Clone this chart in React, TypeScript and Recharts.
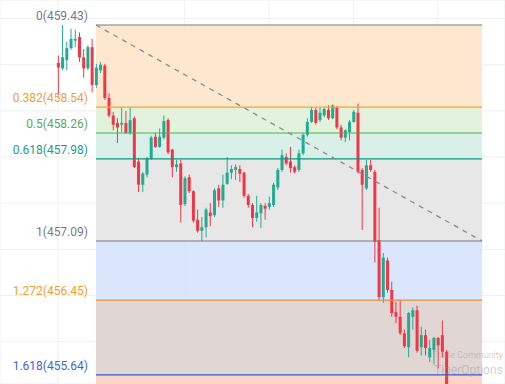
import React from 'react';
import {
  ComposedChart,
  Bar,
  XAxis,
  YAxis,
  CartesianGrid,
  ReferenceArea,
  ReferenceLine,
} from 'recharts';

// OHLC, one entry per candle
const opens = [
  459.02, 458.96, 459.05, 459.18, 459.26, 459.3, 459.08, 458.96, 459.19, 458.78,
  458.94, 458.99, 458.64, 458.45, 458.37, 458.35, 458.37, 458.26, 458.42, 457.95,
  457.7, 457.81, 457.98, 458.22, 458.11, 458.21, 458.4, 458.08, 457.89, 457.93,
  457.49, 457.78, 457.63, 457.32, 457.2, 457.24, 457.4, 457.37, 457.66, 457.53,
  457.71, 457.83, 457.86, 457.87, 457.83, 457.58, 457.48, 457.34, 457.39, 457.47,
  457.46, 457.48, 457.67, 457.86, 458.0, 457.95, 457.89, 457.86, 458.04, 458.24,
  458.38, 458.51, 458.4, 458.45, 458.51, 458.42, 458.54, 458.32, 458.21, 458.27,
  458.38, 458.48, 457.86, 457.66, 457.91, 457.84, 457.1, 456.48, 456.88, 456.56,
  456.32, 456.27, 456.09, 455.94, 456.27, 456.34, 455.94, 456.07, 455.83, 455.91,
  456.04, 456.07, 455.89,
];
const highs = [
  459.1, 459.43, 459.25, 459.39, 459.38, 459.35, 459.17, 459.21, 459.28, 459.01,
  459.03, 459.01, 458.69, 458.49, 458.42, 458.54, 458.5, 458.54, 458.44, 457.99,
  457.84, 458.0, 458.23, 458.26, 458.31, 458.45, 458.42, 458.09, 457.97, 457.97,
  457.79, 457.81, 457.64, 457.43, 457.35, 457.45, 457.5, 457.66, 457.7, 457.81,
  458.0, 457.91, 457.92, 457.91, 457.84, 457.6, 457.5, 457.58, 457.5, 457.5,
  457.57, 457.72, 457.88, 458.08, 458.04, 458.11, 457.91, 458.08, 458.26, 458.42,
  458.54, 458.53, 458.54, 458.53, 458.56, 458.57, 458.55, 458.35, 458.3, 458.4,
  458.51, 458.58, 457.88, 457.97, 457.97, 457.86, 457.45, 456.96, 456.91, 456.65,
  456.43, 456.45, 456.13, 456.32, 456.37, 456.39, 456.16, 456.13, 456.02, 456.05,
  456.05, 456.23, 455.91,
];
const lows = [
  458.67, 458.94, 458.94, 459.16, 459.19, 459.03, 458.86, 458.94, 458.7, 458.75,
  458.91, 458.62, 458.43, 458.29, 458.15, 458.27, 458.25, 458.24, 457.88, 457.62,
  457.62, 457.78, 457.97, 458.1, 458.1, 458.19, 458.03, 457.78, 457.84, 457.29,
  457.47, 457.61, 457.29, 457.18, 457.09, 457.13, 457.25, 457.35, 457.46, 457.45,
  457.7, 457.76, 457.75, 457.73, 457.56, 457.45, 457.24, 457.3, 457.23, 457.32,
  457.43, 457.46, 457.64, 457.84, 457.91, 457.83, 457.82, 457.84, 458.02, 458.22,
  458.37, 458.35, 458.38, 458.43, 458.4, 458.41, 458.3, 458.18, 458.16, 458.18,
  458.37, 457.82, 457.21, 457.64, 457.84, 456.86, 456.45, 456.42, 456.53, 456.27,
  456.2, 456.07, 455.93, 455.83, 456.13, 455.88, 455.85, 455.85, 455.78, 455.75,
  455.71, 455.83, 455.42,
];
const closes = [
  458.97, 459.08, 459.18, 459.28, 459.28, 459.08, 458.96, 459.19, 458.78, 458.97,
  459.0, 458.64, 458.45, 458.35, 458.32, 458.37, 458.26, 458.4, 457.89, 457.7,
  457.82, 457.99, 458.21, 458.11, 458.22, 458.39, 458.05, 457.89, 457.92, 457.48,
  457.77, 457.63, 457.31, 457.2, 457.24, 457.43, 457.36, 457.64, 457.53, 457.7,
  457.83, 457.87, 457.89, 457.82, 457.58, 457.48, 457.34, 457.4, 457.48, 457.44,
  457.5, 457.7, 457.86, 458.02, 457.93, 457.88, 457.84, 458.04, 458.24, 458.38,
  458.51, 458.37, 458.48, 458.52, 458.42, 458.56, 458.32, 458.21, 458.29, 458.38,
  458.49, 457.84, 457.7, 457.91, 457.86, 457.08, 456.48, 456.91, 456.56, 456.31,
  456.27, 456.09, 455.95, 456.31, 456.34, 455.9, 456.07, 455.93, 455.93, 456.04,
  455.96, 455.89, 455.42,
];

// fibonacci retracement drawn from the high to the low
const fibRatios = ['0', '0.382', '0.5', '0.618', '1', '1.272', '1.618'];
const fibPrices = [459.43, 458.54, 458.26, 457.98, 457.09, 456.45, 455.64];
const fibLineColors = ['#787b86', '#f5a623', '#4caf50', '#089981', '#787b86', '#f08a3c', '#3156d8'];
const fibLabelColors = ['#787b86', '#f0a030', '#5ea85a', '#1f9c89', '#787b86', '#f0a030', '#4266d6'];
const fibZoneColors = ['#fde5c8', '#dff0d8', '#d3eee5', '#e4e4e4', '#d4e2fc', '#dcd2ce', '#fdcfbe'];
const fibNextPrice = 453.3; // 2.618 level, only used to close the last zone
const fibStart = 9;
const fibEnd = 100.5;

const gridPrices = [456, 456.5, 457, 457.5, 458, 458.5, 459, 459.5];
const gridCandles = [0, 30, 50, 70, 90];

const data = opens.map((o, i) => ({
  i,
  open: o,
  high: highs[i],
  low: lows[i],
  close: closes[i],
  range: [lows[i], highs[i]],
}));

const UP = '#22ab94';
const DOWN = '#f23645';

const Candle = (props: any) => {
  const { x, y, width, height, payload } = props;
  if (x == null || y == null) return null;
  const { open, close, high, low } = payload;
  const h = Math.abs(height);
  const top = height < 0 ? y + height : y;
  const k = high === low ? 0 : h / (high - low);
  const yOf = (v: number) => top + (high - v) * k;
  const color = close >= open ? UP : DOWN;
  const cx = x + width / 2;
  const bTop = yOf(Math.max(open, close));
  const bBot = yOf(Math.min(open, close));
  return (
    <g>
      <line x1={cx} x2={cx} y1={top} y2={top + h} stroke={color} strokeWidth={1} />
      <rect x={x} y={bTop} width={width} height={Math.max(1, bBot - bTop)} fill={color} />
    </g>
  );
};

const fibLabel = (text: string, color: string) => (props: any) => {
  const vb = props.viewBox || {};
  return (
    <text
      x={vb.x - 8}
      y={vb.y - 5}
      textAnchor="end"
      fill={color}
      fontSize={12}
      fontFamily="Roboto, 'Noto Sans', sans-serif"
    >
      {text}
    </text>
  );
};

const watermark: React.CSSProperties = {
  position: 'absolute',
  fontFamily: 'Roboto, sans-serif',
  color: 'rgba(150,150,150,0.45)',
  whiteSpace: 'nowrap',
  lineHeight: 1,
};

export default function App() {
  return (
    <div style={{ position: 'fixed', left: 0, top: 0, width: 505, height: 384, background: '#fff', overflow: 'hidden' }}>
      <ComposedChart width={505} height={384} data={data} margin={{ top: 0, right: 0, bottom: 0, left: 0 }}>
        <XAxis
          dataKey="i"
          type="number"
          domain={[-13.74, 105.93]}
          ticks={gridCandles}
          allowDataOverflow
          hide
        />
        <YAxis type="number" domain={[455.541, 459.701]} ticks={gridPrices} allowDataOverflow hide />
        <CartesianGrid stroke="#eef0f3" strokeWidth={1} />
        {fibPrices.map((p, k) => (
          <ReferenceArea
            key={`z${k}`}
            x1={fibStart}
            x2={fibEnd}
            y1={p}
            y2={k + 1 < fibPrices.length ? fibPrices[k + 1] : fibNextPrice}
            fill={fibZoneColors[k]}
            fillOpacity={0.88}
            stroke="none"
            ifOverflow="hidden"
          />
        ))}
        {fibPrices.map((p, k) => (
          <ReferenceLine
            key={`l${k}`}
            segment={[
              { x: fibStart, y: p },
              { x: fibEnd, y: p },
            ]}
            stroke={fibLineColors[k]}
            strokeWidth={1.2}
            ifOverflow="extendDomain"
            label={fibLabel(`${fibRatios[k]}(${p.toFixed(2)})`, fibLabelColors[k])}
          />
        ))}
        <Bar dataKey="range" barSize={3} shape={Candle} isAnimationActive={false} />
        <ReferenceLine
          segment={[
            { x: fibStart, y: fibPrices[0] },
            { x: fibEnd, y: fibPrices[4] },
          ]}
          stroke="#8c8c8c"
          strokeWidth={1.3}
          strokeDasharray="5 5"
        />
      </ComposedChart>
      <div style={{ ...watermark, left: 432, top: 351, fontSize: 9 }}>Trade Community</div>
      <div style={{ ...watermark, left: 434, top: 364, fontSize: 12 }}>TigerOptions</div>
    </div>
  );
}
